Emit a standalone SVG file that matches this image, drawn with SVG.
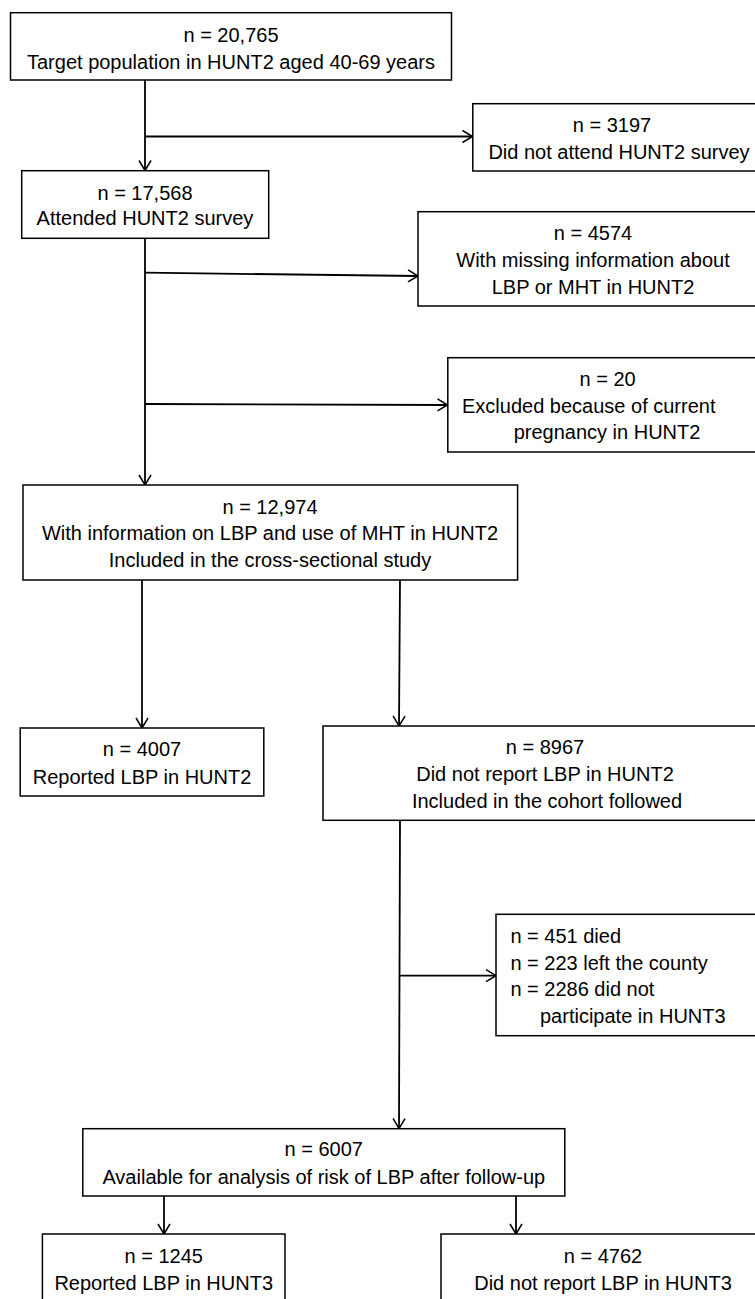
<svg xmlns="http://www.w3.org/2000/svg" width="755" height="1299" viewBox="0 0 755 1299">
<style>
.box{fill:#fff;stroke:#000;stroke-width:1.5}
.c{stroke:#000;stroke-width:1.8;fill:none;marker-end:url(#ah)}
text{font-family:"Liberation Sans",Arial,sans-serif;font-size:20px;fill:#000}
.m{text-anchor:middle}
</style>
<defs>
<marker id="ah" markerUnits="userSpaceOnUse" markerWidth="14" markerHeight="16" refX="11" refY="7" orient="auto" viewBox="0 0 14 14">
<path d="M1,1 L11,7 L1,13" fill="none" stroke="#000" stroke-width="1.5"/>
</marker>
</defs>
<rect width="755" height="1299" fill="#fff"/>
<g id="connectors">
<line class="c" x1="145" y1="80" x2="145" y2="170.5"/>
<line class="c" x1="145" y1="136.5" x2="472.5" y2="136.5"/>
<line class="c" x1="145" y1="238.5" x2="145" y2="485"/>
<polyline class="c" points="145,272.7 418,276"/>
<polyline class="c" points="145,404 447.5,405"/>
<line class="c" x1="142" y1="580" x2="142" y2="728"/>
<polyline class="c" points="400,580 399,726"/>
<polyline class="c" points="400,820.5 399,1128.5"/>
<line class="c" x1="400" y1="975.7" x2="496" y2="975.7"/>
<line class="c" x1="164" y1="1196" x2="164" y2="1234"/>
<line class="c" x1="516" y1="1196" x2="516" y2="1234"/>
</g>
<g id="n1"><rect class="box" x="10.5" y="12.7" width="441" height="67.3"/>
<text class="m" x="231" y="42">n = 20,765</text>
<text class="m" x="231" y="69">Target population in HUNT2 aged 40-69 years</text></g>
<g id="n2"><rect class="box" x="472.8" y="103.7" width="293" height="67.3"/>
<text class="m" x="612" y="132">n = 3197</text>
<text class="m" x="619" y="159">Did not attend HUNT2 survey</text></g>
<g id="n3"><rect class="box" x="21.7" y="170.7" width="247" height="67.6"/>
<text class="m" x="145" y="200">n = 17,568</text>
<text class="m" x="145" y="225">Attended HUNT2 survey</text></g>
<g id="n4"><rect class="box" x="418" y="211.7" width="350" height="94.3"/>
<text class="m" x="593" y="240">n = 4574</text>
<text class="m" x="593" y="267">With missing information about</text>
<text class="m" x="593" y="294">LBP or MHT in HUNT2</text></g>
<g id="n5"><rect class="box" x="447.8" y="357.7" width="320" height="94.3"/>
<text class="m" x="607.6" y="386">n = 20</text>
<text x="462" y="413">Excluded because of current</text>
<text class="m" x="607" y="439">pregnancy in HUNT2</text></g>
<g id="n6"><rect class="box" x="23" y="485" width="494.6" height="95"/>
<text class="m" x="270" y="514">n = 12,974</text>
<text class="m" x="270" y="540">With information on LBP and use of MHT in HUNT2</text>
<text class="m" x="270" y="567">Included in the cross-sectional study</text></g>
<g id="n7"><rect class="box" x="20.2" y="728" width="243.6" height="68"/>
<text class="m" x="142" y="756">n = 4007</text>
<text class="m" x="142" y="784">Reported LBP in HUNT2</text></g>
<g id="n8"><rect class="box" x="323" y="726" width="444" height="94.3"/>
<text class="m" x="545" y="754">n = 8967</text>
<text class="m" x="545" y="781">Did not report LBP in HUNT2</text>
<text class="m" x="547" y="808">Included in the cohort followed</text></g>
<g id="n9"><rect class="box" x="496" y="914.3" width="271" height="121.4"/>
<text x="510.4" y="943">n = 451 died</text>
<text x="510.4" y="970">n = 223 left the county</text>
<text x="510.4" y="996">n = 2286 did not</text>
<text x="540" y="1023">participate in HUNT3</text></g>
<g id="n10"><rect class="box" x="82.8" y="1128.7" width="482" height="67.3"/>
<text class="m" x="323.8" y="1156">n = 6007</text>
<text class="m" x="323.8" y="1184">Available for analysis of risk of LBP after follow-up</text></g>
<g id="n11"><rect class="box" x="42.4" y="1234" width="242.6" height="80"/>
<text class="m" x="163.7" y="1263">n = 1245</text>
<text class="m" x="163.7" y="1290">Reported LBP in HUNT3</text></g>
<g id="n12"><rect class="box" x="441" y="1234" width="324" height="80"/>
<text class="m" x="603" y="1263">n = 4762</text>
<text class="m" x="603" y="1290">Did not report LBP in HUNT3</text></g>
</svg>
